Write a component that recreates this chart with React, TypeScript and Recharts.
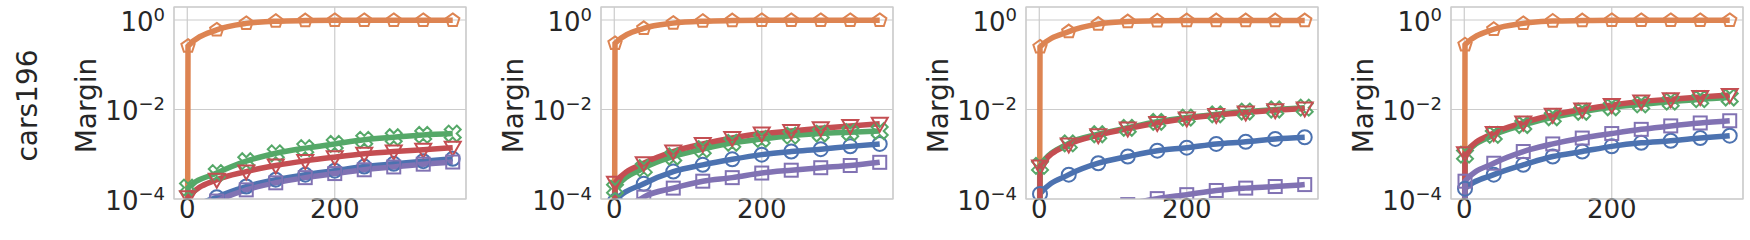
import React from 'react';
import { LineChart, Line, XAxis, YAxis, CartesianGrid } from 'recharts';

// epochs; the first point is the untrained start (margin ~0, shown below the log axis)
const epochs = [0, 1, 40, 80, 120, 160, 200, 240, 280, 320, 360];
const xTicks = [0, 200];
const yTicks = [1e-4, 1e-2, 1];
const seriesNames = ['blue', 'orange', 'green', 'red', 'purple'];
const rowLabel = 'cars196';
const axisLabel = 'Margin';

// panel 1
const p1Blue = [1e-8, 5e-5, 1.1e-4, 1.9e-4, 2.7e-4, 3.5e-4, 4.3e-4, 5.3e-4, 6.1e-4, 7.0e-4, 7.9e-4];
const p1Orange = [1e-8, 0.26, 0.6, 0.84, 0.94, 0.97, 0.98, 0.98, 0.98, 0.98, 0.98];
const p1Green = [1e-8, 1.8e-4, 3.8e-4, 7e-4, 1.05e-3, 1.37e-3, 1.7e-3, 2.1e-3, 2.4e-3, 2.7e-3, 2.9e-3];
const p1Red = [1e-8, 1.1e-4, 2.7e-4, 4.1e-4, 5.6e-4, 7.1e-4, 8.6e-4, 1.02e-3, 1.15e-3, 1.26e-3, 1.4e-3];
const p1Purple = [1e-8, 4e-5, 9e-5, 1.6e-4, 2.3e-4, 3e-4, 3.7e-4, 4.5e-4, 5.2e-4, 6e-4, 6.7e-4];

// panel 2
const p2Blue = [1e-8, 9e-5, 2.2e-4, 4.1e-4, 5.8e-4, 7.7e-4, 9.8e-4, 1.15e-3, 1.3e-3, 1.5e-3, 1.7e-3];
const p2Orange = [1e-8, 0.3, 0.65, 0.85, 0.94, 0.97, 0.98, 0.98, 0.98, 0.98, 0.98];
const p2Green = [1e-8, 1.7e-4, 4.9e-4, 8.9e-4, 1.3e-3, 1.8e-3, 2.2e-3, 2.6e-3, 2.9e-3, 3.1e-3, 3.3e-3];
const p2Red = [1e-8, 2.3e-4, 6.3e-4, 1.15e-3, 1.7e-3, 2.3e-3, 2.9e-3, 3.3e-3, 3.8e-3, 4.3e-3, 4.8e-3];
const p2Purple = [1e-8, 3e-5, 1.1e-4, 1.75e-4, 2.5e-4, 3e-4, 3.8e-4, 4.4e-4, 5e-4, 5.6e-4, 6.6e-4];

// panel 3
const p3Blue = [1e-8, 1.3e-4, 3.5e-4, 6.3e-4, 8.9e-4, 1.2e-3, 1.4e-3, 1.7e-3, 1.9e-3, 2.2e-3, 2.4e-3];
const p3Orange = [1e-8, 0.25, 0.55, 0.81, 0.92, 0.96, 0.97, 0.97, 0.97, 0.97, 0.97];
const p3Green = [1e-8, 5.5e-4, 1.75e-3, 2.8e-3, 3.9e-3, 5.3e-3, 6.6e-3, 7.8e-3, 9e-3, 1.0e-2, 1.1e-2];
const p3Red = [1e-8, 5.3e-4, 1.65e-3, 2.65e-3, 3.75e-3, 5.0e-3, 6.3e-3, 7.5e-3, 8.6e-3, 9.6e-3, 1.05e-2];
const p3Purple = [1e-8, 1e-5, 2.5e-5, 4e-5, 7.5e-5, 1.02e-4, 1.25e-4, 1.55e-4, 1.75e-4, 1.9e-4, 2.1e-4];

// panel 4
const p4Blue = [1e-8, 1.7e-4, 3.5e-4, 5.8e-4, 8.9e-4, 1.15e-3, 1.5e-3, 1.8e-3, 2e-3, 2.3e-3, 2.6e-3];
const p4Orange = [1e-8, 0.28, 0.62, 0.84, 0.95, 0.97, 0.98, 0.98, 0.98, 0.98, 0.98];
const p4Green = [1e-8, 9.8e-4, 2.7e-3, 4.5e-3, 6.7e-3, 8.9e-3, 1.12e-2, 1.3e-2, 1.5e-2, 1.7e-2, 1.85e-2];
const p4Red = [1e-8, 1.05e-3, 3e-3, 5.1e-3, 7.6e-3, 1.0e-2, 1.26e-2, 1.5e-2, 1.7e-2, 1.9e-2, 2.1e-2];
const p4Purple = [1e-8, 2.5e-4, 6.3e-4, 1.15e-3, 1.7e-3, 2.3e-3, 2.9e-3, 3.6e-3, 4.3e-3, 5e-3, 5.6e-3];

const panelSeries = [
  [p1Blue, p1Orange, p1Green, p1Red, p1Purple],
  [p2Blue, p2Orange, p2Green, p2Red, p2Purple],
  [p3Blue, p3Orange, p3Green, p3Red, p3Purple],
  [p4Blue, p4Orange, p4Green, p4Red, p4Purple],
];

const COLORS: Record<string, string> = {
  blue: '#4C72B0',
  orange: '#DD8452',
  green: '#55A868',
  red: '#C44E52',
  purple: '#8172B3',
};
const MARKERS: Record<string, string> = {
  blue: 'circle',
  orange: 'pentagon',
  green: 'x',
  red: 'triangle',
  purple: 'square',
};

const FONT = '"DejaVu Sans", sans-serif';
const TEXT = '#262626';
const GRID = '#cccccc';

const PLOT_LEFTS = [174, 601, 1026, 1451];
const PLOT_W = 292;
const PLOT_TOP = 7;
const PLOT_BOTTOM = 199;
const AXIS_W = 110;

const pts = (arr: number[][]) => arr.map(p => p.join(',')).join(' ');

const Marker = ({ shape, cx, cy, color }: { shape: string; cx: number; cy: number; color: string }) => {
  const common = { fill: 'none', stroke: color, strokeWidth: 2 };
  if (shape === 'circle') return <circle cx={cx} cy={cy} r={7} {...common} />;
  if (shape === 'square') return <rect x={cx - 6.5} y={cy - 6.5} width={13} height={13} {...common} />;
  if (shape === 'triangle')
    return <polygon points={pts([[cx - 8, cy - 6], [cx + 8, cy - 6], [cx, cy + 8]])} {...common} />;
  if (shape === 'pentagon') {
    const p = [0, 1, 2, 3, 4].map(k => {
      const a = ((-90 + k * 72) * Math.PI) / 180;
      return [cx + 7 * Math.cos(a), cy + 7 * Math.sin(a)];
    });
    return <polygon points={pts(p)} {...common} />;
  }
  // filled-X outline
  const L = 8.5, t = 2.8;
  const plus = [[-t, -L], [t, -L], [t, -t], [L, -t], [L, t], [t, t], [t, L], [-t, L], [-t, t], [-L, t], [-L, -t], [-t, -t]];
  const c = Math.SQRT1_2;
  const rot = plus.map(([x, y]) => [cx + (x - y) * c, cy + (x + y) * c]);
  return <polygon points={pts(rot)} {...common} strokeLinejoin="miter" />;
};

const makeDot = (name: string) => (props: any) => {
  const { cx, cy, index } = props;
  if (index === 0 || cx == null || cy == null) return <g key={`d-${name}-${index}`} />;
  return <Marker key={`d-${name}-${index}`} shape={MARKERS[name]} cx={cx} cy={cy} color={COLORS[name]} />;
};

const supExp = (v: number) => {
  const e = Math.round(Math.log10(v));
  return e < 0 ? `\u2212${-e}` : `${e}`;
};

const txt = (size: number) => ({ fontFamily: FONT, fontSize: size, fill: TEXT });

const LogTick = (props: any) => {
  const { x, y, payload } = props;
  return (
    <text x={x} y={y + 11} textAnchor="end" style={txt(26)}>
      <tspan>10</tspan>
      <tspan dy={-10} style={{ fontSize: 18 }}>{supExp(payload.value)}</tspan>
    </text>
  );
};

const XTick = (props: any) => {
  const { x, y, payload } = props;
  return (
    <text x={x} y={y + 19} textAnchor="middle" style={txt(26)}>
      {payload.value}
    </text>
  );
};

const Panel = ({ idx }: { idx: number }) => {
  const series = panelSeries[idx];
  const data = epochs.map((x, i) => {
    const row: Record<string, number> = { x };
    seriesNames.forEach((n, s) => (row[n] = series[s][i]));
    return row;
  });
  return (
    <div style={{ position: 'absolute', left: PLOT_LEFTS[idx] - AXIS_W, top: 0 }}>
      <LineChart
        width={AXIS_W + PLOT_W + 6}
        height={240}
        data={data}
        margin={{ top: PLOT_TOP, right: 6, bottom: 0, left: 0 }}
      >
        <CartesianGrid stroke={GRID} strokeWidth={1.2} />
        <XAxis
          dataKey="x"
          type="number"
          domain={[-18, 378]}
          ticks={xTicks}
          height={240 - PLOT_BOTTOM}
          axisLine={false}
          tickLine={false}
          tickSize={0}
          tickMargin={0}
          tick={<XTick />}
          allowDataOverflow
        />
        <YAxis
          type="number"
          scale="log"
          domain={[1e-4, 1.95]}
          ticks={yTicks}
          width={AXIS_W}
          axisLine={false}
          tickLine={false}
          tickSize={0}
          tickMargin={9}
          tick={<LogTick />}
          allowDataOverflow
        />
        {seriesNames.map(n => (
          <Line
            key={n}
            dataKey={n}
            type="monotone"
            stroke={COLORS[n]}
            strokeWidth={5.5}
            dot={makeDot(n)}
            activeDot={false}
            isAnimationActive={false}
          />
        ))}
      </LineChart>
    </div>
  );
};

export default function App() {
  return (
    <div style={{ position: 'absolute', left: 0, top: 0, width: 1750, height: 240, background: '#fff', overflow: 'hidden' }}>
      {[0, 1, 2, 3].map(i => (
        <Panel key={i} idx={i} />
      ))}
      <svg width={1750} height={240} style={{ position: 'absolute', left: 0, top: 0, pointerEvents: 'none' }}>
        {PLOT_LEFTS.map(l => (
          <g key={l}>
            <rect x={l} y={PLOT_TOP} width={PLOT_W} height={PLOT_BOTTOM - PLOT_TOP} fill="none" stroke={GRID} strokeWidth={1.25} />
            <text
              x={l - 78}
              y={105.5}
              transform={`rotate(-90, ${l - 78}, 105.5)`}
              textAnchor="middle"
              style={txt(28)}
            >
              {axisLabel}
            </text>
          </g>
        ))}
        <text x={36.7} y={105.5} transform="rotate(-90, 36.7, 105.5)" textAnchor="middle" style={txt(28)}>
          {rowLabel}
        </text>
      </svg>
    </div>
  );
}
